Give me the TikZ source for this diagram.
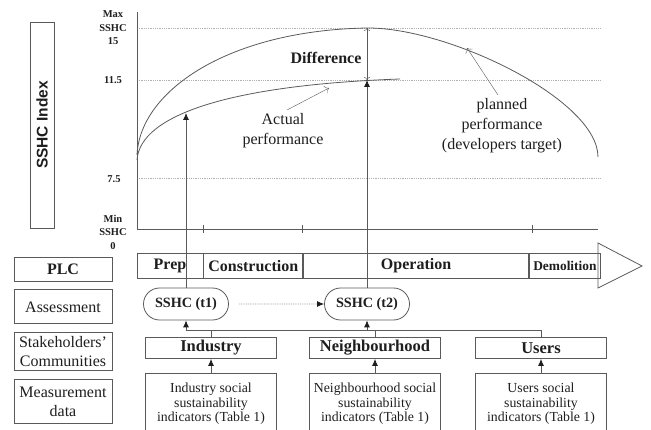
\documentclass[tikz,border=0pt]{standalone}
\usepackage{fontspec}
\setmainfont{Liberation Serif}
\setsansfont{Liberation Sans}
\usepackage{tikz}
\usepackage{xcolor}
\usetikzlibrary{shapes}
\usetikzlibrary{calc}
\usetikzlibrary{positioning, arrows.meta}

\definecolor{ink}{HTML}{5A5A5A}
\definecolor{txt}{HTML}{1E1E1E}

\begin{document}
\begin{tikzpicture}[x=1pt, y=-1pt, node distance={8pt}, thick, draw=ink, text=txt,
    lab/.style = {draw=ink, minimum width=98pt, inner sep=0pt, align=center, font=\fontsize{16}{19}\selectfont},
    phase/.style = {draw=ink, minimum height=25pt, inner sep=0pt, font=\bfseries\fontsize{16}{19}\selectfont},
    sshc/.style = {draw=ink, rounded rectangle, minimum width=85pt, minimum height=32pt, inner sep=0pt, font=\bfseries\fontsize{14.2}{17}\selectfont},
    group/.style = {draw=ink, minimum width=131pt, minimum height=21pt, inner sep=0pt, font=\bfseries\fontsize{16.5}{19}\selectfont},
    data/.style = {draw=ink, anchor=north, minimum width=131pt, inner ysep=10pt, text depth=40pt, align=center, font=\fontsize{13.8}{14.5}\selectfont},
    note/.style = {align=center, font=\fontsize{16}{20}\selectfont},
    grid/.style = {densely dotted, black!30},
    curve/.style = {ink},
    feed/.style = {ink, -{Latex[length=7pt, width=6pt, txt]}},
    pointer/.style = {ink, thin, -{To[length=4pt]}}]
    \useasboundingbox (0,0) rectangle (651,430);

    % left column
    \node[draw=ink, rotate=90, minimum width=206pt, minimum height=24pt, inner sep=0pt, font=\sffamily\bfseries\fontsize{15.5}{18}\selectfont] (idx) at (42,125) {SSHC Index};
    \node[lab, minimum height=24pt] (plc) at (63,269) {\textbf{PLC}};
    \node[lab, minimum height=34pt, below=of plc] (assess) {Assessment};
    \node[lab, minimum height=38pt, below=of assess] (stake) {Stakeholders'\\Communities};
    \node[lab, minimum height=44pt, below=of stake] (meas) {Measurement\\data};

    % axes and grid
    \draw[grid] (137,28) -- (600,28);
    \draw[grid] (137,80) -- (600,80);
    \draw[grid] (137,178) -- (600,178);
    \draw (137,12) -- (137,229) -- (598,229);
    \foreach \x in {203,302,532}
        \draw (\x,225) -- (\x,233);
    \node[align=center, font=\bfseries\fontsize{10.5}{13.5}\selectfont] (ymax) at (113,28) {Max\\SSHC\\15};
    \node[font=\bfseries\fontsize{10.5}{13.5}\selectfont] (yhi) at (113,80) {11.5};
    \node[font=\bfseries\fontsize{10.5}{13.5}\selectfont] (ylo) at (114,179) {7.5};
    \node[align=center, font=\bfseries\fontsize{10.5}{13.5}\selectfont] (ymin) at (113,232) {Min\\SSHC\\0};

    % performance curves
    \draw[curve] (137,160) .. controls (140,115) and (230,85) .. (400,79);
    \draw[curve] (137,155) .. controls (140,90) and (230,30) .. (368,28) .. controls (450,28) and (598,100) .. (598,157);
    \coordinate (a1) at (186,113);
    \coordinate (a2) at (367,80);
    \coordinate (p2) at (367,28);
    \node[font=\bfseries\fontsize{16}{19}\selectfont] (diff) at (326,58) {Difference};
    \node[note] (act) at (283,131) {Actual\\performance};
    \node[note] (plan) at (502,126) {planned\\performance\\(developers target)};
    \coordinate (actTip) at (329,88);
    \coordinate (planTip) at (467,48);
    \draw[pointer] ([xshift=4pt]act.north) -- (actTip);
    \draw[pointer] ([xshift=-4pt]plan.north) -- (planTip);

    % project life cycle
    \node[phase, minimum width=66pt] (prep) at (170,266) {Prep};
    \node[phase, minimum width=99pt, right=0pt of prep] (cons) {Construction};
    \node[phase, minimum width=225pt, right=0pt of cons] (oper) {Operation};
    \node[phase, minimum width=71pt, right=0pt of oper, font=\bfseries\fontsize{13.4}{16}\selectfont] (demo) {Demolition};
    \draw (598,243) -- (642,266) -- (598,288) -- cycle;

    % assessments
    \node[sshc] (t1) at (186,304) {SSHC (t1)};
    \node[sshc] (t2) at (367,304) {SSHC (t2)};
    \draw[feed, densely dotted, black!45, shorten <=10pt] (t1) -- (t2);
    \draw[feed] (t1.north) -- (a1);
    \draw[feed] (t2.north) -- (a2);
    \draw[pointer, {To[length=3pt]}-{To[length=3pt]}] (a2) -- (p2);

    % stakeholders and data
    \node[group] (ind) at (211,348) {Industry};
    \node[group] (nbh) at (375,348) {Neighbourhood};
    \node[group] (usr) at (541,348) {Users};
    \coordinate (b1) at (186,330);
    \coordinate (b2) at (367,330);
    \draw (b1) -| (usr.north);
    \draw (ind.north) -- (ind.north |- b1);
    \draw (nbh.north) -- (nbh.north |- b1);
    \draw[feed] (b1) -- (t1.south);
    \draw[feed] (b2) -- (t2.south);
    \node[data] (dind) at (211,373) {Industry social\\sustainability\\indicators (Table 1)};
    \node[data] (dnbh) at (375,373) {Neighbourhood social\\sustainability\\indicators (Table 1)};
    \node[data] (dusr) at (541,373) {Users social\\sustainability\\indicators (Table 1)};
    \draw[feed] (dind) -- (ind);
    \draw[feed] (dnbh) -- (nbh);
    \draw[feed] (dusr) -- (usr);
\end{tikzpicture}
\end{document}
